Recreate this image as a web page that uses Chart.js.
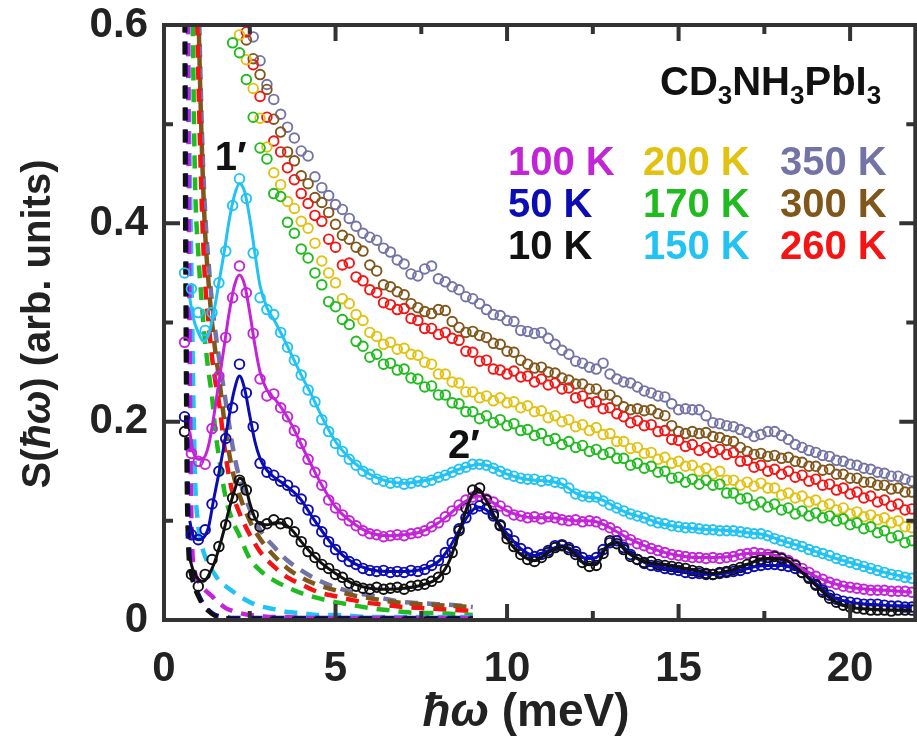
<!DOCTYPE html>
<html>
<head>
<meta charset="utf-8">
<script src="https://cdn.jsdelivr.net/npm/chart.js@4.4.1/dist/chart.umd.min.js"></script>
<style>
  html, body { margin: 0; padding: 0; background: #fff; overflow: hidden; }
  #wrap { width: 922px; height: 736px; }
</style>
</head>
<body>
<div id="wrap"><canvas id="sqw" width="922" height="736"></canvas></div>
<script>
// energy transfer of the measured points (meV)
const energy = [
  0.6, 0.8, 1.0, 1.2, 1.4, 1.6, 1.8, 2.0, 2.2, 2.4,
  2.6, 2.8, 3.0, 3.2, 3.4, 3.6, 3.8, 4.0, 4.2, 4.4,
  4.6, 4.8, 5.0, 5.2, 5.4, 5.6, 5.8, 6.0, 6.2, 6.4,
  6.6, 6.8, 7.0, 7.2, 7.4, 7.6, 7.8, 8.0, 8.2, 8.4,
  8.6, 8.8, 9.0, 9.2, 9.4, 9.6, 9.8, 10.0, 10.2, 10.4,
  10.6, 10.8, 11.0, 11.2, 11.4, 11.6, 11.8, 12.0, 12.2, 12.4,
  12.6, 12.8, 13.0, 13.2, 13.4, 13.6, 13.8, 14.0, 14.2, 14.4,
  14.6, 14.8, 15.0, 15.2, 15.4, 15.6, 15.8, 16.0, 16.2, 16.4,
  16.6, 16.8, 17.0, 17.2, 17.4, 17.6, 17.8, 18.0, 18.2, 18.4,
  18.6, 18.8, 19.0, 19.2, 19.4, 19.6, 19.8, 20.0, 20.2, 20.4,
  20.6, 20.8, 21.0, 21.2, 21.4, 21.6, 21.8
];

// S(hw) per temperature
const s10 = [
  0.190, 0.046, 0.034, 0.046, 0.061, 0.074, 0.096, 0.123, 0.141, 0.131,
  0.106, 0.094, 0.097, 0.101, 0.097, 0.098, 0.089, 0.079, 0.069, 0.063,
  0.056, 0.052, 0.046, 0.043, 0.037, 0.034, 0.032, 0.031, 0.033, 0.031,
  0.032, 0.033, 0.031, 0.034, 0.035, 0.036, 0.039, 0.043, 0.051, 0.068,
  0.090, 0.113, 0.131, 0.133, 0.121, 0.107, 0.095, 0.082, 0.074, 0.066,
  0.061, 0.059, 0.063, 0.068, 0.073, 0.075, 0.071, 0.066, 0.058, 0.054,
  0.055, 0.067, 0.080, 0.077, 0.071, 0.064, 0.061, 0.058, 0.059, 0.056,
  0.055, 0.054, 0.053, 0.052, 0.050, 0.049, 0.047, 0.046, 0.048, 0.049,
  0.051, 0.053, 0.056, 0.059, 0.061, 0.063, 0.064, 0.062, 0.058, 0.055,
  0.048, 0.042, 0.035, 0.028, 0.022, 0.018, 0.015, 0.013, 0.012, 0.011,
  0.010, 0.010, 0.010, 0.009, 0.010, 0.010, 0.010
];
const s50 = [
  0.205, 0.086, 0.081, 0.091, 0.117, 0.150, 0.183, 0.214, 0.258, 0.229,
  0.195, 0.158, 0.149, 0.146, 0.140, 0.136, 0.130, 0.122, 0.111, 0.100,
  0.089, 0.079, 0.071, 0.064, 0.059, 0.056, 0.052, 0.050, 0.049, 0.050,
  0.048, 0.049, 0.048, 0.050, 0.049, 0.051, 0.055, 0.060, 0.068, 0.078,
  0.092, 0.103, 0.112, 0.115, 0.112, 0.105, 0.096, 0.087, 0.080, 0.072,
  0.068, 0.064, 0.066, 0.070, 0.075, 0.076, 0.073, 0.069, 0.063, 0.060,
  0.063, 0.071, 0.078, 0.080, 0.073, 0.066, 0.061, 0.057, 0.055, 0.054,
  0.052, 0.051, 0.050, 0.048, 0.047, 0.047, 0.046, 0.046, 0.047, 0.048,
  0.049, 0.050, 0.052, 0.054, 0.055, 0.056, 0.056, 0.055, 0.054, 0.052,
  0.048, 0.043, 0.036, 0.030, 0.025, 0.021, 0.019, 0.018, 0.017, 0.016,
  0.016, 0.016, 0.015, 0.014, 0.014, 0.013, 0.013
];
const s100 = [
  0.280, 0.168, 0.160, 0.157, 0.193, 0.246, 0.285, 0.325, 0.357, 0.330,
  0.289, 0.243, 0.226, 0.228, 0.214, 0.205, 0.191, 0.178, 0.162, 0.149,
  0.136, 0.121, 0.113, 0.106, 0.100, 0.095, 0.090, 0.087, 0.086, 0.084,
  0.085, 0.086, 0.085, 0.087, 0.088, 0.090, 0.094, 0.098, 0.104, 0.110,
  0.116, 0.121, 0.124, 0.125, 0.122, 0.119, 0.115, 0.110, 0.106, 0.105,
  0.103, 0.104, 0.102, 0.104, 0.103, 0.101, 0.100, 0.101, 0.099, 0.100,
  0.099, 0.096, 0.093, 0.089, 0.085, 0.081, 0.077, 0.075, 0.072, 0.070,
  0.068, 0.066, 0.065, 0.064, 0.063, 0.063, 0.062, 0.063, 0.062, 0.063,
  0.064, 0.066, 0.067, 0.068, 0.067, 0.066, 0.065, 0.063, 0.060, 0.056,
  0.052, 0.048, 0.044, 0.041, 0.038, 0.036, 0.034, 0.033, 0.032, 0.031,
  0.030, 0.030, 0.030, 0.029, 0.029, 0.029, 0.028
];
const s150 = [
  0.350, 0.334, 0.310, 0.292, 0.310, 0.340, 0.372, 0.418, 0.445, 0.425,
  0.370, 0.325, 0.313, 0.308, 0.290, 0.275, 0.262, 0.247, 0.232, 0.220,
  0.202, 0.190, 0.178, 0.170, 0.162, 0.156, 0.150, 0.147, 0.142, 0.140,
  0.138, 0.139, 0.137, 0.138, 0.140, 0.139, 0.141, 0.144, 0.146, 0.149,
  0.152, 0.154, 0.157, 0.157, 0.156, 0.153, 0.150, 0.147, 0.145, 0.143,
  0.142, 0.142, 0.140, 0.141, 0.139, 0.138, 0.133, 0.127, 0.125, 0.124,
  0.124, 0.120, 0.116, 0.113, 0.110, 0.107, 0.105, 0.103, 0.100, 0.098,
  0.097, 0.095, 0.094, 0.093, 0.093, 0.092, 0.091, 0.091, 0.090, 0.090,
  0.090, 0.089, 0.088, 0.087, 0.087, 0.085, 0.082, 0.080, 0.078, 0.076,
  0.074, 0.071, 0.069, 0.067, 0.065, 0.062, 0.060, 0.058, 0.056, 0.054,
  0.052, 0.050, 0.048, 0.046, 0.045, 0.043, 0.042
];
const s170 = [
  null, null, null, null, null, null, null, 0.582, 0.572, 0.545,
  0.507, 0.476, 0.465, 0.430, 0.427, 0.401, 0.390, 0.374, 0.365, 0.350,
  0.338, 0.321, 0.316, 0.303, 0.298, 0.281, 0.276, 0.265, 0.268, 0.258,
  0.259, 0.252, 0.253, 0.244, 0.243, 0.235, 0.236, 0.227, 0.227, 0.219,
  0.218, 0.210, 0.210, 0.203, 0.206, 0.199, 0.202, 0.196, 0.198, 0.191,
  0.192, 0.186, 0.188, 0.181, 0.183, 0.177, 0.180, 0.174, 0.176, 0.170,
  0.172, 0.167, 0.169, 0.163, 0.163, 0.156, 0.158, 0.153, 0.155, 0.149,
  0.150, 0.143, 0.144, 0.139, 0.142, 0.137, 0.141, 0.136, 0.137, 0.128,
  0.128, 0.122, 0.123, 0.116, 0.119, 0.114, 0.117, 0.111, 0.113, 0.107,
  0.110, 0.105, 0.108, 0.103, 0.105, 0.100, 0.102, 0.096, 0.098, 0.092,
  0.094, 0.088, 0.090, 0.083, 0.085, 0.078, 0.080
];
const s200 = [
  null, null, null, null, null, null, null, null, 0.590, 0.565,
  0.536, 0.506, 0.477, 0.451, 0.439, 0.422, 0.415, 0.402, 0.395, 0.380,
  0.362, 0.350, 0.340, 0.324, 0.319, 0.308, 0.302, 0.290, 0.286, 0.278,
  0.280, 0.273, 0.274, 0.268, 0.267, 0.260, 0.258, 0.248, 0.248, 0.240,
  0.239, 0.230, 0.230, 0.224, 0.226, 0.221, 0.224, 0.219, 0.220, 0.214,
  0.216, 0.210, 0.211, 0.204, 0.206, 0.200, 0.202, 0.195, 0.197, 0.191,
  0.194, 0.187, 0.188, 0.180, 0.180, 0.173, 0.174, 0.168, 0.169, 0.162,
  0.164, 0.158, 0.160, 0.155, 0.156, 0.150, 0.153, 0.147, 0.150, 0.141,
  0.141, 0.136, 0.139, 0.135, 0.138, 0.133, 0.133, 0.126, 0.128, 0.123,
  0.125, 0.119, 0.121, 0.115, 0.117, 0.111, 0.113, 0.107, 0.109, 0.104,
  0.106, 0.101, 0.103, 0.098, 0.100, 0.094, 0.093
];
const s260 = [
  null, null, null, null, null, null, null, null, null, 0.593,
  0.560, 0.528, 0.507, 0.483, 0.472, 0.456, 0.444, 0.430, 0.420, 0.408,
  0.402, 0.384, 0.376, 0.358, 0.360, 0.346, 0.342, 0.333, 0.330, 0.320,
  0.318, 0.313, 0.314, 0.304, 0.302, 0.294, 0.294, 0.288, 0.290, 0.284,
  0.282, 0.271, 0.270, 0.261, 0.262, 0.253, 0.252, 0.248, 0.251, 0.245,
  0.246, 0.240, 0.243, 0.237, 0.239, 0.233, 0.234, 0.224, 0.226, 0.219,
  0.220, 0.213, 0.214, 0.208, 0.205, 0.199, 0.201, 0.196, 0.197, 0.190,
  0.191, 0.182, 0.181, 0.175, 0.177, 0.171, 0.174, 0.169, 0.172, 0.167,
  0.169, 0.160, 0.161, 0.154, 0.156, 0.150, 0.152, 0.147, 0.150, 0.144,
  0.146, 0.140, 0.142, 0.136, 0.137, 0.131, 0.133, 0.127, 0.129, 0.123,
  0.125, 0.119, 0.121, 0.115, 0.117, 0.111, 0.112
];
const s300 = [
  null, null, null, null, null, null, null, null, null, 0.585,
  0.566, 0.550, 0.535, 0.505, 0.492, 0.472, 0.463, 0.448, 0.440, 0.426,
  0.421, 0.411, 0.399, 0.388, 0.384, 0.376, 0.372, 0.358, 0.352, 0.338,
  0.336, 0.331, 0.328, 0.319, 0.315, 0.311, 0.309, 0.313, 0.312, 0.301,
  0.295, 0.290, 0.291, 0.287, 0.285, 0.279, 0.278, 0.271, 0.270, 0.262,
  0.258, 0.254, 0.255, 0.250, 0.249, 0.244, 0.242, 0.238, 0.238, 0.233,
  0.233, 0.227, 0.227, 0.221, 0.215, 0.212, 0.213, 0.211, 0.212, 0.208,
  0.206, 0.196, 0.190, 0.188, 0.190, 0.188, 0.189, 0.185, 0.184, 0.181,
  0.180, 0.174, 0.170, 0.167, 0.168, 0.165, 0.166, 0.163, 0.164, 0.160,
  0.159, 0.155, 0.155, 0.151, 0.152, 0.147, 0.147, 0.143, 0.143, 0.139,
  0.139, 0.136, 0.136, 0.132, 0.133, 0.129, 0.129
];
const s350 = [
  null, null, null, null, null, null, null, null, null, null,
  0.588, 0.564, 0.540, 0.525, 0.510, 0.497, 0.486, 0.473, 0.468, 0.447,
  0.436, 0.428, 0.419, 0.414, 0.405, 0.397, 0.390, 0.386, 0.383, 0.375,
  0.371, 0.363, 0.359, 0.349, 0.347, 0.354, 0.357, 0.344, 0.341, 0.336,
  0.333, 0.326, 0.324, 0.319, 0.313, 0.308, 0.307, 0.302, 0.301, 0.292,
  0.291, 0.289, 0.290, 0.284, 0.278, 0.272, 0.268, 0.261, 0.259, 0.255,
  0.253, 0.259, 0.248, 0.243, 0.240, 0.239, 0.235, 0.231, 0.229, 0.226,
  0.225, 0.218, 0.212, 0.213, 0.212, 0.212, 0.206, 0.199, 0.198, 0.196,
  0.195, 0.192, 0.189, 0.185, 0.187, 0.190, 0.190, 0.186, 0.182, 0.177,
  0.174, 0.171, 0.169, 0.166, 0.165, 0.161, 0.160, 0.157, 0.156, 0.153,
  0.152, 0.149, 0.148, 0.145, 0.145, 0.142, 0.140
];

// model fits for the low-temperature spectra
const fitE = [
  0.75, 0.85, 1.0, 1.15, 1.3, 1.45, 1.6, 1.75, 1.9, 2.05,
  2.2, 2.35, 2.5, 2.65, 2.8, 3.0, 3.25, 3.5, 3.75, 4.0,
  4.3, 4.6, 5.0, 5.5, 6.0, 6.5, 7.0, 7.5, 8.0, 8.3,
  8.6, 8.9, 9.15, 9.4, 9.7, 10.0, 10.4, 10.8, 11.2, 11.6,
  12.0, 12.3, 12.6, 12.9, 13.2, 13.5, 14.0, 14.5, 15.0, 15.5,
  16.0, 16.5, 17.0, 17.5, 18.0, 18.5, 19.0, 19.5, 20.0, 20.5,
  21.0, 21.8
];
const fit10 = [
  0.062, 0.050, 0.041, 0.039, 0.045, 0.056, 0.072, 0.091, 0.112, 0.130,
  0.143, 0.138, 0.118, 0.103, 0.097, 0.096, 0.098, 0.097, 0.090, 0.079,
  0.067, 0.057, 0.047, 0.037, 0.032, 0.031, 0.032, 0.035, 0.043, 0.058,
  0.088, 0.120, 0.132, 0.120, 0.100, 0.082, 0.066, 0.060, 0.068, 0.074,
  0.066, 0.056, 0.056, 0.074, 0.078, 0.068, 0.059, 0.056, 0.053, 0.050,
  0.047, 0.050, 0.056, 0.062, 0.062, 0.051, 0.035, 0.020, 0.013, 0.011,
  0.010, 0.010
];
const fit50 = [
  0.100, 0.085, 0.081, 0.083, 0.094, 0.122, 0.148, 0.176, 0.206, 0.232,
  0.246, 0.233, 0.206, 0.180, 0.163, 0.151, 0.143, 0.137, 0.130, 0.121,
  0.105, 0.090, 0.072, 0.058, 0.051, 0.049, 0.049, 0.051, 0.059, 0.072,
  0.090, 0.107, 0.114, 0.111, 0.100, 0.087, 0.072, 0.065, 0.070, 0.075,
  0.069, 0.062, 0.063, 0.074, 0.079, 0.070, 0.058, 0.053, 0.050, 0.047,
  0.046, 0.048, 0.052, 0.055, 0.055, 0.050, 0.037, 0.023, 0.018, 0.016,
  0.015, 0.013
];
const fit100 = [
  0.190, 0.170, 0.162, 0.163, 0.176, 0.205, 0.240, 0.275, 0.310, 0.337,
  0.348, 0.338, 0.310, 0.277, 0.250, 0.232, 0.222, 0.210, 0.195, 0.177,
  0.156, 0.136, 0.114, 0.098, 0.088, 0.085, 0.086, 0.089, 0.098, 0.106,
  0.115, 0.122, 0.125, 0.122, 0.116, 0.110, 0.105, 0.103, 0.103, 0.102,
  0.100, 0.100, 0.099, 0.095, 0.089, 0.083, 0.075, 0.069, 0.065, 0.063,
  0.063, 0.064, 0.067, 0.067, 0.063, 0.054, 0.044, 0.037, 0.033, 0.031,
  0.030, 0.028
];
const fit150 = [
  0.325, 0.305, 0.290, 0.281, 0.288, 0.310, 0.340, 0.370, 0.403, 0.428,
  0.440, 0.432, 0.405, 0.370, 0.337, 0.315, 0.300, 0.283, 0.265, 0.247,
  0.227, 0.205, 0.180, 0.160, 0.147, 0.140, 0.138, 0.140, 0.144, 0.148,
  0.152, 0.155, 0.157, 0.156, 0.152, 0.147, 0.143, 0.141, 0.140, 0.137,
  0.128, 0.124, 0.123, 0.119, 0.113, 0.108, 0.103, 0.097, 0.094, 0.092,
  0.091, 0.090, 0.088, 0.086, 0.080, 0.075, 0.069, 0.063, 0.058, 0.053,
  0.048, 0.042
];

// quasi-elastic components (dashed)
const qeE = [
  0.5, 0.55, 0.6, 0.65, 0.7, 0.8, 0.9, 1.0, 1.1, 1.2,
  1.3, 1.4, 1.5, 1.6, 1.8, 2.0, 2.2, 2.5, 2.8, 3.2,
  3.6, 4.0, 4.5, 5.0, 5.5, 6.0, 6.5, 7.0, 7.5, 8.0,
  8.5, 9.0
];
const qe10 = [
  4.0, 1.5, 0.6, 0.2, 0.08, 0.045, 0.032, 0.024, 0.017, 0.012,
  0.009, 0.006, 0.004, 0.003, 0.002, 0.001, 0.001, 0.001, 0.001, 0.001,
  0.001, 0.001, 0.001, 0.001, 0.001, 0.001, 0.001, 0.001, 0.001, 0.001,
  0.001, 0.001
];
const qe50 = [
  4.0, 2.0, 0.9, 0.35, 0.12, 0.05, 0.035, 0.026, 0.019, 0.014,
  0.010, 0.007, 0.005, 0.004, 0.003, 0.002, 0.002, 0.002, 0.002, 0.002,
  0.002, 0.002, 0.002, 0.002, 0.002, 0.002, 0.002, 0.002, 0.002, 0.002,
  0.002, 0.002
];
const qe100 = [
  3.0, 2.4, 1.8, 1.2, 0.6, 0.1, 0.048, 0.040, 0.034, 0.030,
  0.027, 0.024, 0.020, 0.017, 0.012, 0.009, 0.007, 0.005, 0.004, 0.003,
  0.003, 0.002, 0.002, 0.002, 0.002, 0.002, 0.002, 0.002, 0.002, 0.002,
  0.002, 0.002
];
const qe150 = [
  3.0, 2.0, 1.3, 0.9, 0.6, 0.35, 0.15, 0.095, 0.075, 0.064,
  0.056, 0.050, 0.045, 0.040, 0.034, 0.029, 0.024, 0.018, 0.014, 0.011,
  0.008, 0.007, 0.005, 0.005, 0.004, 0.003, 0.003, 0.003, 0.003, 0.003,
  0.003, 0.003
];
const qe170 = [
  1.6, 1.4, 1.2, 1.0, 0.9, 0.7, 0.45, 0.37, 0.32, 0.28,
  0.25, 0.225, 0.19, 0.165, 0.123, 0.100, 0.085, 0.062, 0.050, 0.040,
  0.033, 0.027, 0.022, 0.018, 0.015, 0.012, 0.010, 0.008, 0.007, 0.007,
  0.006, 0.005
];
const qe260 = [
  2.0, 1.8, 1.6, 1.4, 1.2, 0.9, 0.72, 0.55, 0.42, 0.34,
  0.30, 0.265, 0.24, 0.22, 0.165, 0.128, 0.108, 0.086, 0.069, 0.054,
  0.043, 0.036, 0.028, 0.024, 0.020, 0.017, 0.015, 0.013, 0.012, 0.011,
  0.010, 0.009
];
const qe300 = [
  2.1, 1.9, 1.7, 1.5, 1.3, 1.0, 0.8, 0.62, 0.48, 0.39,
  0.34, 0.30, 0.27, 0.245, 0.19, 0.150, 0.126, 0.100, 0.082, 0.065,
  0.052, 0.043, 0.035, 0.030, 0.025, 0.022, 0.019, 0.017, 0.016, 0.015,
  0.014, 0.013
];
const qe350 = [
  2.2, 2.0, 1.8, 1.6, 1.4, 1.1, 0.85, 0.65, 0.50, 0.41,
  0.36, 0.32, 0.29, 0.265, 0.22, 0.175, 0.143, 0.112, 0.091, 0.074,
  0.060, 0.050, 0.040, 0.033, 0.028, 0.025, 0.021, 0.018, 0.017, 0.016,
  0.015, 0.013
];

const temps = [10, 50, 100, 150, 170, 200, 260, 300, 350];
const colors = ['#111111', '#0c0cb4', '#c424d8', '#22c3f2', '#1fbb1f', '#e2c210', '#f51414', '#80561a', '#7373a6'];
const measured = [s10, s50, s100, s150, s170, s200, s260, s300, s350];
const fits = { 10: fit10, 50: fit50, 100: fit100, 150: fit150 };
const quasi = { 10: qe10, 50: qe50, 100: qe100, 150: qe150, 170: qe170, 260: qe260, 300: qe300, 350: qe350 };

const xMajor = [0, 5, 10, 15, 20];
const xTickLabels = ['0', '5', '10', '15', '20'];
const yMajor = [0, 0.2, 0.4, 0.6];
const yTickLabels = ['0', '0.2', '0.4', '0.6'];

// key layout: rows of temperatures
const keyRows = [[100, 200, 350], [50, 170, 300], [10, 150, 260]];
const formula = [['CD', false], ['3', true], ['NH', false], ['3', true], ['PbI', false], ['3', true]];

const FONT = "'Liberation Sans', Arial, sans-serif";
const colorOf = t => colors[temps.indexOf(t)];
const pairs = (xs, ys) => xs.map((x, i) => ({ x, y: ys[i] })).filter(p => p.y !== null);

const datasets = [];
Object.keys(fits).forEach(t => {
  datasets.push({
    label: t + ' K fit',
    data: pairs(fitE, fits[t]),
    showLine: true,
    borderColor: colorOf(+t),
    borderWidth: 3,
    pointRadius: 0,
    cubicInterpolationMode: 'monotone',
    order: 0
  });
});
temps.forEach((t, i) => {
  datasets.push({
    label: t + ' K',
    data: pairs(energy, measured[i]),
    showLine: false,
    pointStyle: 'circle',
    pointRadius: 4.8,
    pointBorderWidth: 1.9,
    pointBorderColor: colors[i],
    pointBackgroundColor: 'rgba(0,0,0,0)',
    order: 1
  });
});
Object.keys(quasi).forEach(t => {
  datasets.push({
    label: t + ' K QE',
    data: pairs(qeE, quasi[t]),
    showLine: true,
    borderColor: colorOf(+t),
    borderWidth: 4.5,
    borderDash: [13, 9],
    pointRadius: 0,
    cubicInterpolationMode: 'monotone',
    clip: 0,
    order: 2
  });
});

function pickLabel(majors, labels, v) {
  const i = majors.findIndex(m => Math.abs(m - v) < 1e-6);
  return i >= 0 ? labels[i] : '';
}

// box with inward ticks on all four sides
const framePlugin = {
  id: 'frame',
  afterDatasetsDraw(chart) {
    const { ctx, chartArea: a, scales } = chart;
    ctx.save();
    ctx.strokeStyle = '#333';
    ctx.lineWidth = 4;
    ctx.beginPath();
    scales.x.ticks.forEach(t => {
      const px = scales.x.getPixelForValue(t.value);
      const len = t.label ? 16 : 9;
      ctx.moveTo(px, a.bottom); ctx.lineTo(px, a.bottom - len);
      ctx.moveTo(px, a.top); ctx.lineTo(px, a.top + len);
    });
    scales.y.ticks.forEach(t => {
      const py = scales.y.getPixelForValue(t.value);
      const len = t.label ? 16 : 9;
      ctx.moveTo(a.left, py); ctx.lineTo(a.left + len, py);
      ctx.moveTo(a.right, py); ctx.lineTo(a.right - len, py);
    });
    ctx.stroke();
    ctx.strokeRect(a.left, a.top, a.right - a.left, a.bottom - a.top);
    ctx.restore();
  }
};

// axis titles, compound name, temperature key and peak marks
const textPlugin = {
  id: 'texts',
  afterDraw(chart) {
    const { ctx, scales } = chart;
    ctx.save();
    ctx.textBaseline = 'alphabetic';
    ctx.textAlign = 'left';

    // x title: italic hbar-omega, upright units
    const xParts = [['ħω', 'italic bold 46px '], [' (meV)', 'bold 46px ']];
    let w = 0;
    xParts.forEach(([s, f]) => { ctx.font = f + FONT; w += ctx.measureText(s).width; });
    let x = 526 - w / 2;
    ctx.fillStyle = '#222';
    xParts.forEach(([s, f]) => { ctx.font = f + FONT; ctx.fillText(s, x, 726); x += ctx.measureText(s).width; });

    // y title, rotated
    const yParts = [['S(', 'bold 40px '], ['ħω', 'italic bold 40px '], [') (arb. units)', 'bold 40px ']];
    ctx.save();
    ctx.translate(50, 324);
    ctx.rotate(-Math.PI / 2);
    w = 0;
    yParts.forEach(([s, f]) => { ctx.font = f + FONT; w += ctx.measureText(s).width; });
    x = -w / 2;
    yParts.forEach(([s, f]) => { ctx.font = f + FONT; ctx.fillText(s, x, 0); x += ctx.measureText(s).width; });
    ctx.restore();

    // compound name with subscripts
    x = 660;
    ctx.fillStyle = '#111';
    formula.forEach(([s, sub]) => {
      ctx.font = (sub ? 'bold 26px ' : 'bold 40px ') + FONT;
      ctx.fillText(s, x, sub ? 104 : 95);
      x += ctx.measureText(s).width;
    });

    // temperature key
    const colX = [508, 643, 780];
    const rowY = [175, 217, 259];
    ctx.font = 'bold 40px ' + FONT;
    keyRows.forEach((row, r) => row.forEach((t, c) => {
      ctx.fillStyle = colorOf(t);
      ctx.fillText(t + ' K', colX[c], rowY[r]);
    }));

    // phonon peak marks
    ctx.fillStyle = '#111';
    ctx.font = 'bold 40px ' + FONT;
    ctx.fillText('1′', scales.x.getPixelForValue(1.48), scales.y.getPixelForValue(0.454));
    ctx.fillText('2′', scales.x.getPixelForValue(8.28), scales.y.getPixelForValue(0.163));
    ctx.restore();
  }
};

Chart.defaults.font.family = FONT;

new Chart(document.getElementById('sqw'), {
  type: 'scatter',
  data: { datasets },
  options: {
    responsive: false,
    animation: false,
    devicePixelRatio: 1,
    layout: { padding: { top: 25, right: 2, left: 0, bottom: 0 } },
    plugins: { legend: { display: false }, tooltip: { enabled: false } },
    scales: {
      x: {
        type: 'linear',
        min: 0,
        max: 21.9,
        grid: { display: false, drawTicks: false },
        border: { display: false },
        ticks: {
          stepSize: 2.5,
          includeBounds: false,
          autoSkip: false,
          maxRotation: 0,
          padding: 24,
          color: '#222',
          font: { size: 42, weight: 'bold' },
          callback: v => pickLabel(xMajor, xTickLabels, v)
        },
        afterFit: s => { s.height = 116; s.paddingLeft = 0; s.paddingRight = 0; }
      },
      y: {
        type: 'linear',
        min: 0,
        max: 0.6,
        grid: { display: false, drawTicks: false },
        border: { display: false },
        ticks: {
          stepSize: 0.1,
          includeBounds: false,
          autoSkip: false,
          padding: 16,
          color: '#222',
          font: { size: 42, weight: 'bold' },
          callback: v => pickLabel(yMajor, yTickLabels, v)
        },
        afterFit: s => { s.width = 164; s.paddingTop = 0; s.paddingBottom = 0; }
      }
    }
  },
  plugins: [framePlugin, textPlugin]
});
</script>
</body>
</html>
